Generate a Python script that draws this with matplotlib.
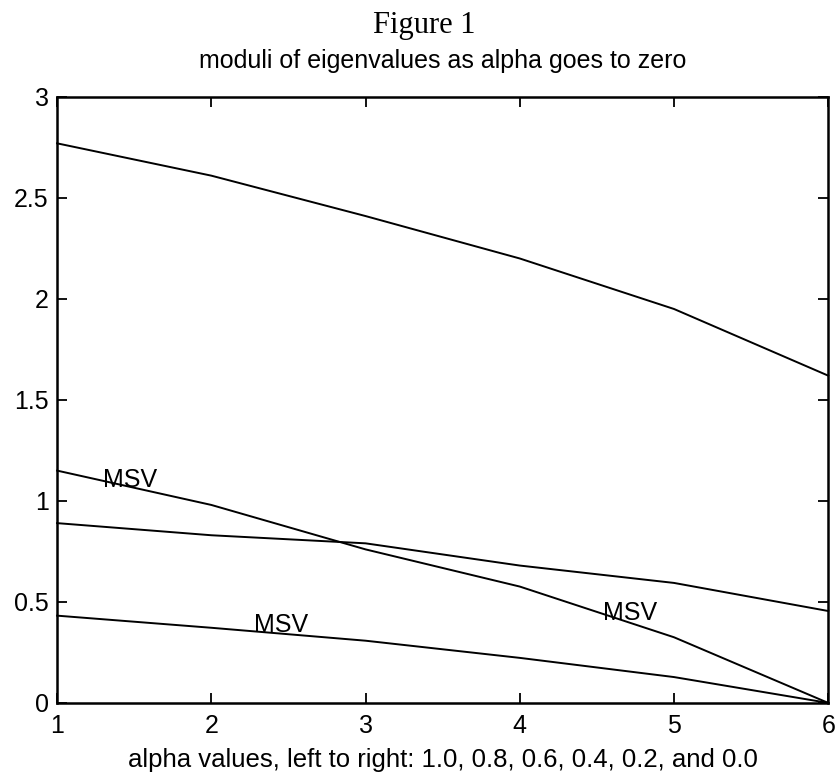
import matplotlib
matplotlib.use("Agg")
import matplotlib.pyplot as plt

x = [1, 2, 3, 4, 5, 6]
series_a = [2.77, 2.61, 2.41, 2.20, 1.95, 1.62]
series_b = [1.15, 0.98, 0.76, 0.576, 0.325, 0.0]
series_c = [0.89, 0.83, 0.79, 0.68, 0.594, 0.455]
series_d = [0.432, 0.372, 0.308, 0.223, 0.128, 0.0]
labels = ["MSV", "MSV", "MSV"]
label_x = [1.47, 2.45, 4.716]
label_y = [1.105, 0.385, 0.444]
xticks = [1, 2, 3, 4, 5, 6]
yticks = [0, 0.5, 1, 1.5, 2, 2.5, 3]
ytick_labels = ["0", "0.5", "1", "1.5", "2", "2.5", "3"]

plt.rcParams['font.family'] = ['Liberation Sans', 'DejaVu Sans']
fig = plt.figure(figsize=(8.4, 7.75), dpi=100)
ax = fig.add_axes([0.068, 0.093, 0.918, 0.782])

for s in (series_a, series_b, series_c, series_d):
    ax.plot(x, s, color='black', lw=1.4, clip_on=False)

for t, lx, ly in zip(labels, label_x, label_y):
    ax.text(lx, ly, t, ha='center', va='center', fontsize=18)

ax.set_xlim(1, 6)
ax.set_ylim(0, 3)
ax.set_xticks(xticks)
ax.set_xticklabels([str(v) for v in xticks])
ax.set_yticks(yticks)
ax.set_yticklabels(ytick_labels)
ax.tick_params(direction='in', top=True, right=True, length=7, width=1.3,
               labelsize=18)
ax.tick_params(axis='x', pad=8)
ax.tick_params(axis='y', pad=6)
for sp in ax.spines.values():
    sp.set_linewidth(1.8)

fig.text(0.527, 0.0103, "alpha values, left to right: 1.0, 0.8, 0.6, 0.4, 0.2, and 0.0",
         ha='center', va='baseline', fontsize=18.5)
fig.text(0.527, 0.912, "moduli of eigenvalues as alpha goes to zero",
         ha='center', va='baseline', fontsize=18)
fig.text(0.505, 0.957, "Figure 1", ha='center', va='baseline',
         fontsize=22, family='Liberation Serif')

fig.savefig("out.png", dpi=100)
